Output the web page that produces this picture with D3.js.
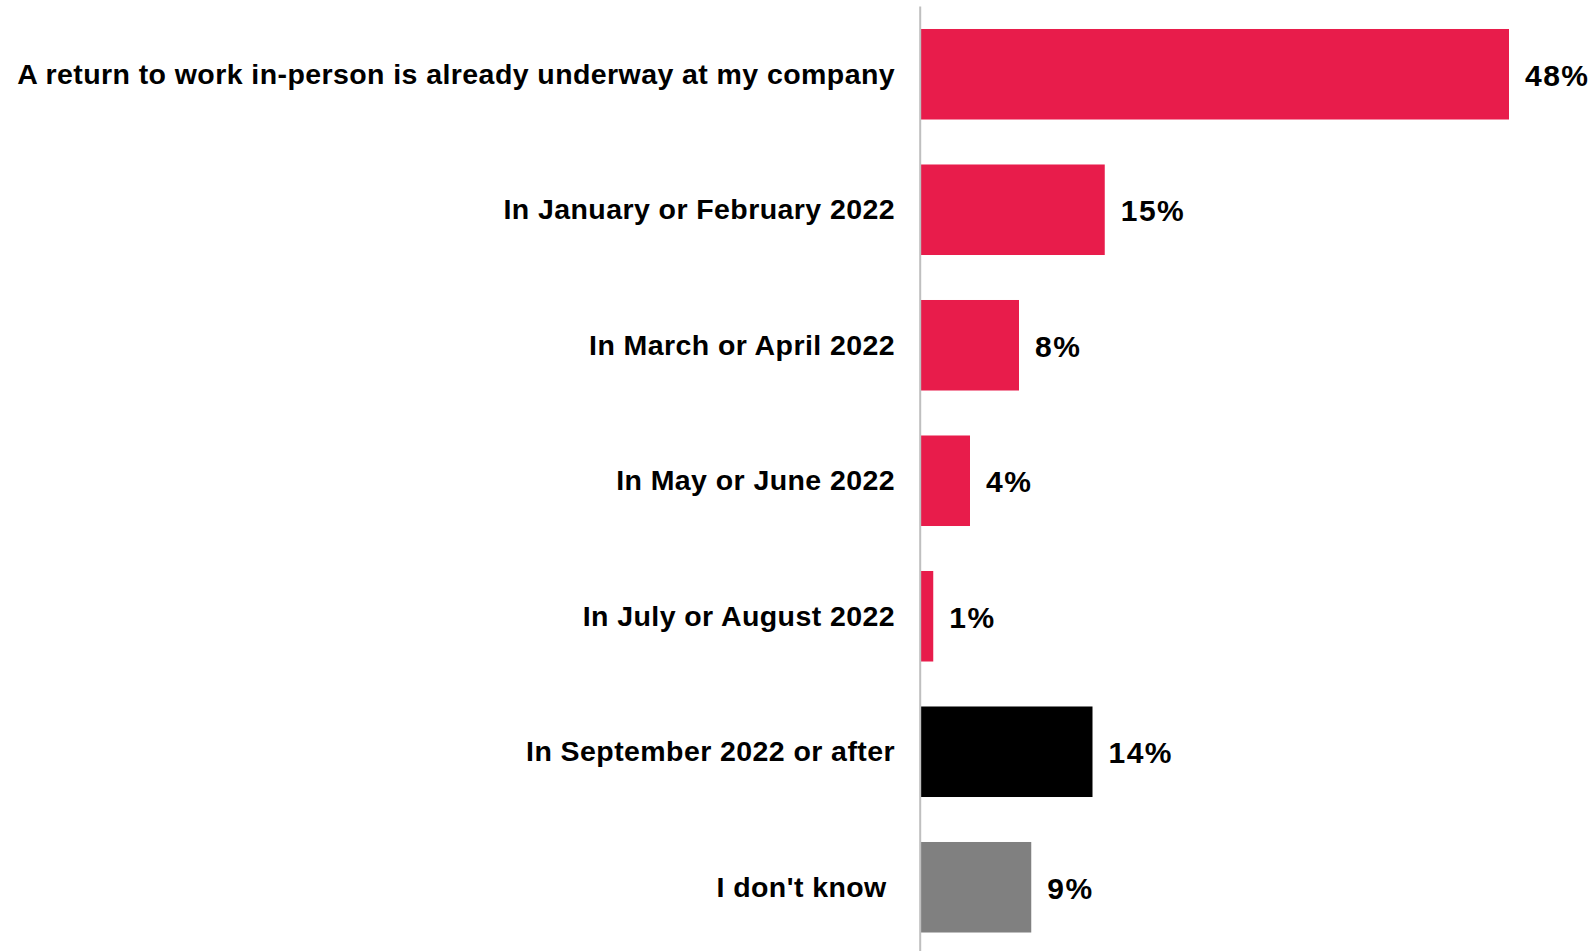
<!DOCTYPE html>
<html>
<head>
<meta charset="utf-8">
<script src="https://cdn.jsdelivr.net/npm/d3@7"></script>
<style>
  html, body { margin: 0; padding: 0; background: #fff; }
  svg { display: block; }
  text { font-family: "Liberation Sans", Arial, sans-serif; font-weight: bold; fill: #000; }
</style>
</head>
<body>
<svg id="chart" width="1595" height="951"></svg>
<script>
// Survey answers: when does the return to in-person work begin
const categories = [
  "A return to work in-person is already underway at my company",
  "In January or February 2022",
  "In March or April 2022",
  "In May or June 2022",
  "In July or August 2022",
  "In September 2022 or after",
  "I don't know "
];
const values = [48, 15, 8, 4, 1, 14, 9];
const barColors = ["#E81C4B", "#E81C4B", "#E81C4B", "#E81C4B", "#E81C4B", "#000000", "#808080"];

const svg = d3.select("#chart");

const x0 = 921;
const x = d3.scaleLinear().domain([0, 48]).range([x0, 1509]);
const y = d3.scaleBand()
  .domain(categories)
  .range([6.5, 6.5 + 135.5 * categories.length])
  .paddingInner(0.332)
  .paddingOuter(0.166);

// bars
svg.append("g")
  .selectAll("rect")
  .data(categories)
  .join("rect")
  .attr("x", x(0))
  .attr("y", d => y(d))
  .attr("width", (d, i) => x(values[i]) - x(0))
  .attr("height", y.bandwidth())
  .attr("fill", (d, i) => barColors[i]);

// vertical baseline
svg.append("line")
  .attr("x1", x0 - 0.8).attr("x2", x0 - 0.8)
  .attr("y1", 6.5).attr("y2", 951)
  .attr("stroke", "#BFBFBF")
  .attr("stroke-width", 2);

// category labels
svg.append("g")
  .selectAll("text")
  .data(categories)
  .join("text")
  .attr("x", 895)
  .attr("y", d => y(d) + y.bandwidth() / 2 + 9.5)
  .attr("text-anchor", "end")
  .attr("font-size", 28.5)
  .attr("letter-spacing", 0.42)
  .style("white-space", "pre")
  .attr("xml:space", "preserve")
  .text(d => d);

// value labels
svg.append("g")
  .selectAll("text")
  .data(categories)
  .join("text")
  .attr("x", (d, i) => x(values[i]) + 16)
  .attr("y", d => y(d) + y.bandwidth() / 2 + 11.5)
  .attr("font-size", 30)
  .attr("letter-spacing", 1.5)
  .text((d, i) => values[i] + "%");
</script>
</body>
</html>
